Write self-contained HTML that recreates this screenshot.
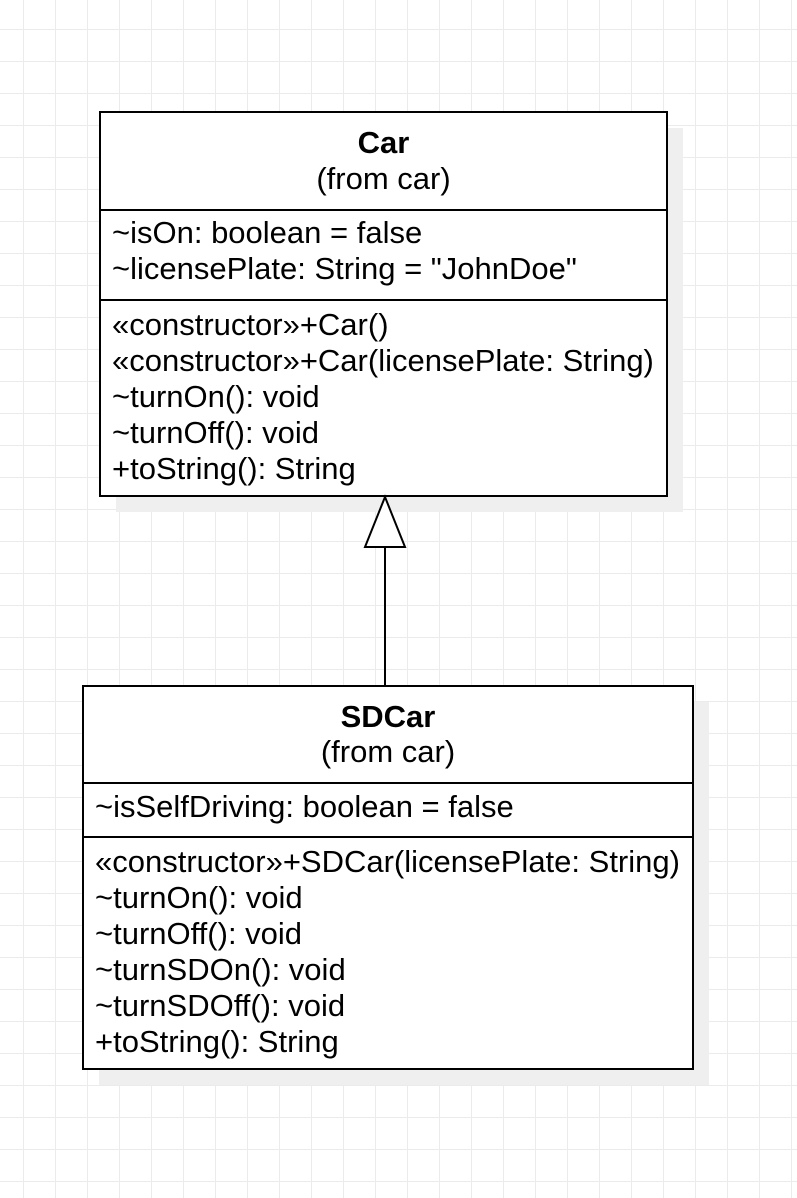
<!DOCTYPE html>
<html><head><style>
html,body{margin:0;padding:0}
body{width:797px;height:1198px;position:relative;overflow:hidden;background:#fff;
background-image:linear-gradient(#ebebeb 1px,transparent 1px),linear-gradient(90deg,#ebebeb 1px,transparent 1px);
background-size:32px 32px;background-position:23px 29px;font-family:"Liberation Sans",sans-serif;color:#000}
.sh{position:absolute;background:#efefef}
.box{position:absolute;border:2px solid #000;background:#fff;box-sizing:border-box}
.t{position:absolute;font-size:31px;line-height:36px;white-space:nowrap}
.c{text-align:center;left:0;right:0}
.hr{position:absolute;left:0;right:0;height:2px;background:#000}
</style></head><body>
<div class="sh" style="left:116px;top:128px;width:567px;height:384px"></div>
<div class="box" style="left:99px;top:111px;width:569px;height:386px">
  <div class="t c" style="top:12px;font-weight:bold">Car</div>
  <div class="t c" style="top:48px">(from car)</div>
  <div class="hr" style="top:96px"></div>
  <div class="t" style="left:11px;top:102px">~isOn: boolean = false</div>
  <div class="t" style="left:11px;top:138px">~licensePlate: String = "JohnDoe"</div>
  <div class="hr" style="top:186px"></div>
  <div class="t" style="left:11px;top:194px">«constructor»+Car()</div>
  <div class="t" style="left:11px;top:230px">«constructor»+Car(licensePlate: String)</div>
  <div class="t" style="left:11px;top:266px">~turnOn(): void</div>
  <div class="t" style="left:11px;top:302px">~turnOff(): void</div>
  <div class="t" style="left:11px;top:338px">+toString(): String</div>
</div>
<svg style="position:absolute;left:0;top:0" width="797" height="1198">
<line x1="385" y1="547" x2="385" y2="686" stroke="#000" stroke-width="2"/>
<polygon points="385,497 365,547 405,547" fill="#fff" stroke="#000" stroke-width="2"/>
</svg>
<div class="sh" style="left:99px;top:702px;width:610px;height:383px"></div>
<div class="box" style="left:82px;top:685px;width:612px;height:385px">
  <div class="t c" style="top:12px;font-weight:bold">SDCar</div>
  <div class="t c" style="top:47px">(from car)</div>
  <div class="hr" style="top:95px"></div>
  <div class="t" style="left:11px;top:102px">~isSelfDriving: boolean = false</div>
  <div class="hr" style="top:149px"></div>
  <div class="t" style="left:11px;top:157px">«constructor»+SDCar(licensePlate: String)</div>
  <div class="t" style="left:11px;top:193px">~turnOn(): void</div>
  <div class="t" style="left:11px;top:229px">~turnOff(): void</div>
  <div class="t" style="left:11px;top:265px">~turnSDOn(): void</div>
  <div class="t" style="left:11px;top:301px">~turnSDOff(): void</div>
  <div class="t" style="left:11px;top:337px">+toString(): String</div>
</div>
</body></html>
